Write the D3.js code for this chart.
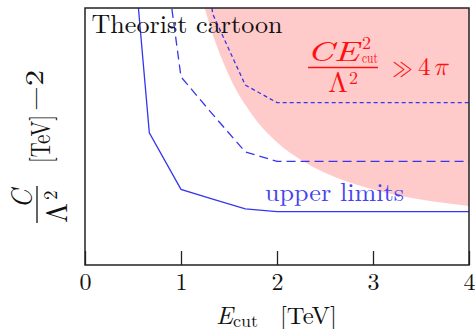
<!DOCTYPE html>
<html>
<head>
<meta charset="utf-8">
<script src="https://cdn.jsdelivr.net/npm/d3@7"></script>
</head>
<body style="margin:0; background:#fff">
<div id="chart"></div>
<script>
// values (y in arbitrary units, 0..10 across the frame)
const energies = [0.33, 0.67, 1, 1.33, 1.67, 2, 2.5, 3, 3.5, 4];
const limitSolid = [19.7, 5.14, 2.94, 2.56, 2.18, 2.08, 2.08, 2.08, 2.08, 2.08];
const limitLongDash = [30, 16.5, 7.32, 5.86, 4.40, 4.03, 4.03, 4.03, 4.03, 4.03];
const limitShortDash = [40, 30, 20, 9.77, 7.00, 6.32, 6.32, 6.32, 6.32, 6.32];

const boundaryE = [1.2, 1.25, 1.5, 1.75, 2, 2.25, 2.5, 3, 3.5, 4];
const boundaryC = [10.68, 9.96, 7.37, 5.80, 4.78, 4.09, 3.59, 2.94, 2.55, 2.30];

const xTicks = [0, 1, 2, 3, 4];

const width = 475, height = 329;
const margin = { top: 8, right: 6, bottom: 64, left: 85 };
const blue = "#3636ee";
const FONT = '"Latin Modern Roman", "Latin Modern Math", "Liberation Serif", serif';

const svg = d3.select("#chart").append("svg")
    .attr("width", width)
    .attr("height", height);

const x = d3.scaleLinear().domain([0, 4]).range([margin.left, width - margin.right]);
const y = d3.scaleLinear().domain([0, 10]).range([height - margin.bottom, margin.top]);

svg.append("defs").append("clipPath")
    .attr("id", "plot-clip")
    .append("rect")
    .attr("x", x(0)).attr("y", y(10))
    .attr("width", x(4) - x(0)).attr("height", y(0) - y(10));

const plot = svg.append("g").attr("clip-path", "url(#plot-clip)");

// strong coupling region
const region = boundaryE.map((e, i) => ({ e: e, c: boundaryC[i] }));
plot.append("path")
    .datum(region)
    .attr("fill", "#ffcaca")
    .attr("d", d3.area()
        .x(d => x(d.e))
        .y0(d => y(d.c))
        .y1(y(10))
        .curve(d3.curveMonotoneX));

// label in the corner
svg.append("text")
    .attr("x", 91.5).attr("y", 33)
    .attr("font-size", 26)
    .attr("textLength", 191)
    .attr("lengthAdjust", "spacingAndGlyphs")
    .attr("fill", "#111")
    .text("Theorist cartoon");

// limit curves
const lines = [
    { vals: limitSolid, dash: null },
    { vals: limitLongDash, dash: "9,5" },
    { vals: limitShortDash, dash: "4,3" }
];
const line = d3.line().x(d => x(d.e)).y(d => y(d.c));
lines.forEach(l => {
    plot.append("path")
        .datum(energies.map((e, i) => ({ e: e, c: l.vals[i] })))
        .attr("fill", "none")
        .attr("stroke", blue)
        .attr("stroke-width", 1.3)
        .attr("stroke-dasharray", l.dash)
        .attr("d", line);
});

svg.append("text")
    .attr("x", 265).attr("y", 200.5)
    .attr("font-size", 26)
    .attr("textLength", 139)
    .attr("lengthAdjust", "spacingAndGlyphs")
    .attr("fill", "#4444ee")
    .text("upper limits");

// red formula
const red = "#ff1010";
const f = svg.append("g").attr("fill", red);
f.append("text").attr("x", 307).attr("y", 61).attr("font-size", 28)
    .attr("font-style", "italic").attr("textLength", 52).attr("lengthAdjust", "spacingAndGlyphs").text("CE");
f.append("text").attr("x", 362).attr("y", 49).attr("font-size", 18).text("2");
f.append("text").attr("x", 362).attr("y", 62.5).attr("font-size", 15)
    .attr("textLength", 16).attr("lengthAdjust", "spacingAndGlyphs").text("cut");
f.append("line").attr("x1", 308).attr("x2", 378).attr("y1", 67.5).attr("y2", 67.5)
    .attr("stroke", red).attr("stroke-width", 1.3);
f.append("text").attr("x", 328).attr("y", 92).attr("font-size", 28)
    .attr("textLength", 20).attr("lengthAdjust", "spacingAndGlyphs").text("Λ");
f.append("text").attr("x", 349).attr("y", 84).attr("font-size", 18).text("2");
f.append("text").attr("x", 392).attr("y", 75.5).attr("font-size", 26)
    .attr("textLength", 21).attr("lengthAdjust", "spacingAndGlyphs").text("≫");
f.append("text").attr("x", 418).attr("y", 75).attr("font-size", 25).text("4");
f.append("text").attr("x", 433).attr("y", 75).attr("font-size", 26)
    .attr("font-style", "italic").attr("textLength", 15).attr("lengthAdjust", "spacingAndGlyphs").text("π");

// x axis with inward ticks
const xAxis = svg.append("g")
    .attr("transform", `translate(0,${y(0)})`)
    .call(d3.axisBottom(x).tickValues(xTicks).tickFormat(d3.format("d"))
        .tickSizeInner(-14).tickSizeOuter(0).tickPadding(8));
xAxis.select(".domain").remove();
xAxis.selectAll(".tick line").attr("stroke", "#222").attr("stroke-width", 1.3);
xAxis.selectAll(".tick text")
    .attr("font-size", 24)
    .attr("fill", "#111");

// frame
svg.append("rect")
    .attr("x", x(0)).attr("y", y(10))
    .attr("width", x(4) - x(0)).attr("height", y(0) - y(10))
    .attr("fill", "none")
    .attr("stroke", "#222")
    .attr("stroke-width", 1.5);

// x label
const xl = svg.append("g").attr("fill", "#111");
xl.append("text").attr("x", 216).attr("y", 324).attr("font-size", 25)
    .attr("font-style", "italic").attr("textLength", 17).attr("lengthAdjust", "spacingAndGlyphs").text("E");
xl.append("text").attr("x", 233).attr("y", 327).attr("font-size", 18)
    .attr("textLength", 25).attr("lengthAdjust", "spacingAndGlyphs").text("cut");
xl.append("text").attr("x", 280).attr("y", 324).attr("font-size", 24)
    .attr("textLength", 57).attr("lengthAdjust", "spacingAndGlyphs").text("[TeV]");

// y label, rotated
const yl = svg.append("g").attr("fill", "#111").attr("transform", "rotate(-90)");
yl.append("text").attr("x", -199).attr("y", 32).attr("font-size", 30)
    .attr("font-style", "italic").attr("text-anchor", "middle")
    .attr("textLength", 19).attr("lengthAdjust", "spacingAndGlyphs").text("C");
yl.append("line").attr("x1", -223).attr("x2", -186).attr("y1", 37).attr("y2", 37)
    .attr("stroke", "#111").attr("stroke-width", 1.3);
yl.append("text").attr("x", -223).attr("y", 67).attr("font-size", 29)
    .attr("textLength", 20).attr("lengthAdjust", "spacingAndGlyphs").text("Λ");
yl.append("text").attr("x", -200).attr("y", 57).attr("font-size", 19).text("2");
yl.append("text").attr("x", -163).attr("y", 50).attr("font-size", 28)
    .attr("textLength", 48).attr("lengthAdjust", "spacingAndGlyphs").text("[TeV]");
yl.append("text").attr("x", -111).attr("y", 43).attr("font-size", 25)
    .attr("textLength", 41).attr("lengthAdjust", "spacingAndGlyphs").text("−2");

svg.selectAll("text").style("font-family", FONT);
</script>
</body>
</html>
